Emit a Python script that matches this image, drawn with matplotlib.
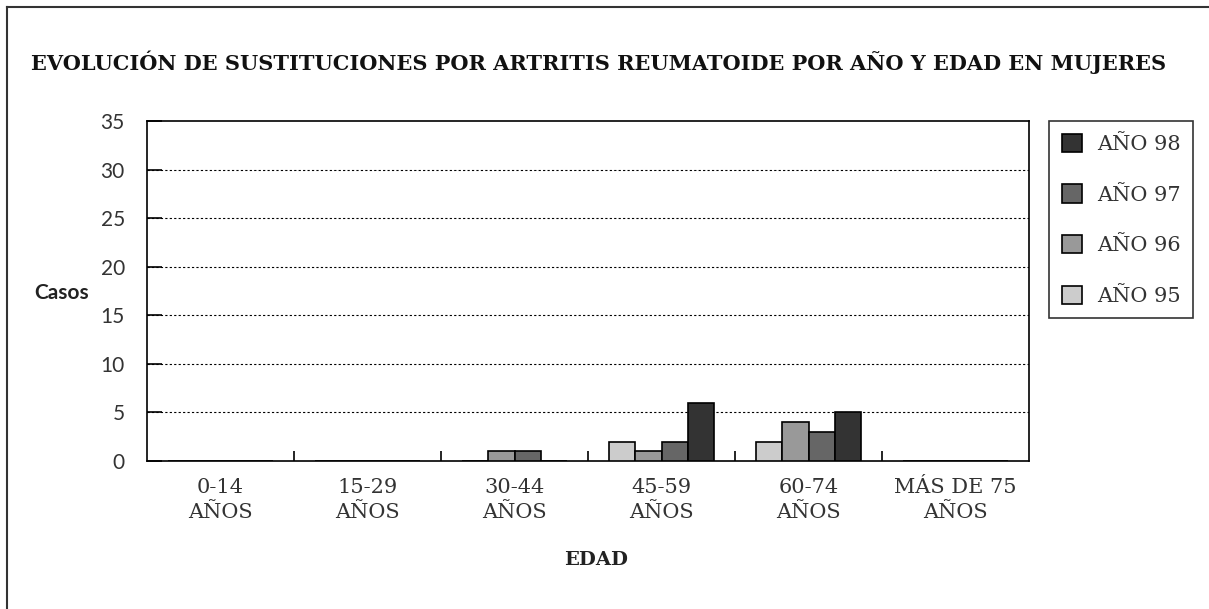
import numpy as np
import matplotlib
matplotlib.use("Agg")
import matplotlib.pyplot as plt
from matplotlib.lines import Line2D

categories = ["0-14\nAÑOS", "15-29\nAÑOS", "30-44\nAÑOS", "45-59\nAÑOS", "60-74\nAÑOS", "MÁS DE 75\nAÑOS"]
series_names = ["AÑO 95", "AÑO 96", "AÑO 97", "AÑO 98"]
anio_95 = [0, 0, 0, 2, 2, 0]
anio_96 = [0, 0, 1, 1, 4, 0]
anio_97 = [0, 0, 1, 2, 3, 0]
anio_98 = [0, 0, 0, 6, 5, 0]
colors = ["#cccccc", "#999999", "#666666", "#333333"]

serif = "DejaVu Serif"
sans = "Lato"

plt.rcParams["ytick.direction"] = "in"
plt.rcParams["xtick.direction"] = "in"

fig = plt.figure(figsize=(12.09, 6.09), dpi=100)
W, H = 1209, 609
ax = fig.add_axes([147 / W, 1 - 461 / H, 882 / W, 340 / H])

x = np.arange(len(categories))
bw = 0.177
handles = []
for i, (vals, name) in enumerate(zip([anio_95, anio_96, anio_97, anio_98], series_names)):
    b = ax.bar(x + (i - 1.5) * bw, vals, bw, color=colors[i], edgecolor="black",
               linewidth=1.2, label=name, zorder=3)
    handles.append(b)

ax.set_xlim(-0.5, len(categories) - 0.5)
ax.set_ylim(0, 35)
ax.set_yticks(range(0, 36, 5))
for yv in range(5, 35, 5):
    ax.axhline(yv, color="black", linestyle=(0, (2, 2)), linewidth=0.8, zorder=1)

ax.set_xticks(x)
ax.set_xticklabels(categories, fontfamily=serif, fontsize=15, color="#333333",
                   linespacing=1.45)
ax.set_xticks(np.arange(0.5, len(categories) - 1, 1), minor=True)
ax.tick_params(axis="x", which="major", length=0, pad=12)
ax.tick_params(axis="x", which="minor", direction="in", length=7, width=1.2)
ax.tick_params(axis="y", which="major", direction="in", length=11, width=1.2, pad=16,
               labelsize=15, labelcolor="#333333")
for lab in ax.get_yticklabels():
    lab.set_fontfamily(sans)

for s in ax.spines.values():
    s.set_linewidth(1.2)

fig.text(62 / W, 1 - 293 / H, "Casos", fontfamily=sans, fontweight="bold",
         fontsize=15, color="#222222", ha="center", va="center")
fig.text(596 / W, 1 - 560 / H, "EDAD", fontfamily=serif, fontweight="bold",
         fontsize=14, color="#222222", ha="center", va="center")
fig.text(599 / W, 1 - 62 / H,
         "EVOLUCIÓN DE SUSTITUCIONES POR ARTRITIS REUMATOIDE POR AÑO Y EDAD EN MUJERES",
         fontfamily=serif, fontweight="bold", fontsize=15, color="#111111",
         ha="center", va="center")

leg = fig.legend(handles[::-1], series_names[::-1], loc="upper left",
                 bbox_to_anchor=(1049 / W, 1 - 121 / H), frameon=True, fancybox=False,
                 prop={"family": serif, "size": 15}, handlelength=1.0, handleheight=1.0,
                 labelspacing=1.45, borderpad=0.6, handletextpad=0.7, borderaxespad=0)
leg.get_frame().set_edgecolor("black")
leg.get_frame().set_linewidth(1.2)
for t in leg.get_texts():
    t.set_color("#333333")

# outer frame (left and top only)
fig.add_artist(Line2D([7 / W, 7 / W], [0, 1 - 7 / H], color="#333333", linewidth=1.5))
fig.add_artist(Line2D([7 / W, 1], [1 - 7 / H, 1 - 7 / H], color="#333333", linewidth=1.5))

fig.savefig("out.png", dpi=100)
